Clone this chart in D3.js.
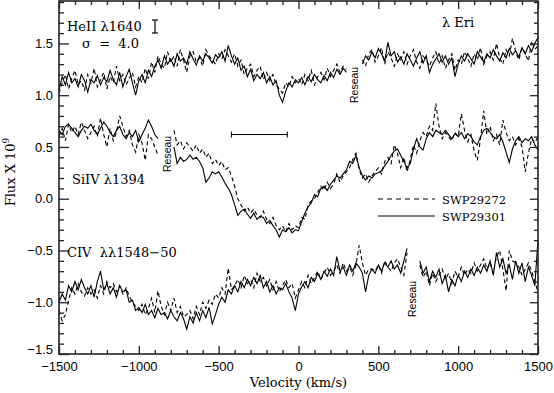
<!DOCTYPE html>
<html><head><meta charset="utf-8">
<script src="https://cdn.jsdelivr.net/npm/d3@7"></script>
<style>
body{margin:0;background:#fff;}
svg{display:block;}
.serif{font-family:"DejaVu Serif",serif;fill:#000;}
.sans{font-family:"Liberation Sans",Arial,sans-serif;fill:#000;}
</style></head><body>
<svg id="c" width="554" height="393"></svg>
<script>
// ---------- DATA ----------
const velocity = d3.range(-1500, 1501, 20); // km/s sampling, 151 points

const heSolid = [
1.05,1.18,1.10,1.22,1.12,1.16,1.08,1.20,1.14,1.03, 1.15,1.12,1.19,1.10,1.17,1.13,1.24,1.15,1.10,1.22, 1.08,1.18,1.25,1.12,1.00,
1.14,1.20,1.12,1.24,1.18,1.28,1.34,1.26,1.38,1.30, 1.35,1.28,1.40,1.33,1.36,1.30,1.42,1.35,1.29,1.38, 1.33,1.40,1.36,1.31,1.39,
1.36,1.42,1.33,1.48,1.38,1.30,1.36,1.24,1.28,1.18, 1.25,1.14,1.20,1.16,1.22,1.12,1.18,1.10,1.14,1.00, 0.93,1.04,1.12,1.08,1.15,
1.12,1.17,1.10,1.18,1.13,1.20,1.15,1.12,1.19,1.14, 1.22,1.17,1.25,1.20,1.26,1.22,
null,null,null,null,
1.30,1.38,1.34,1.42,1.36,1.45,1.40,1.33,1.51,1.38, 1.42,1.32,1.37,1.30,1.40,1.34,1.28,1.36,1.42,1.31, 1.38,1.22,1.30,1.35,1.40,1.32,1.38,1.30,1.36,1.18,
1.30,1.38,1.33,1.40,1.35,1.30,1.42,1.37,1.32,1.40, 1.36,1.44,1.38,1.33,1.41,1.36,1.45,1.39,1.43,1.37, 1.46,1.40,1.48,1.42,1.50,1.56
];
const heDashed = [
1.02,1.12,1.20,1.06,1.16,1.24,1.10,1.14,1.05,1.20, 1.12,1.26,1.08,1.15,1.22,1.06,1.18,1.12,1.28,1.14, 1.20,1.10,1.16,1.22,1.08,
1.18,1.12,1.26,1.16,1.32,1.22,1.38,1.30,1.26,1.42, 1.32,1.38,1.28,1.44,1.34,1.22,1.38,1.42,1.32,1.36, 1.28,1.44,1.38,1.34,1.30,
1.40,1.35,1.44,1.38,1.32,1.40,1.28,1.34,1.20,1.26, 1.30,1.18,1.24,1.28,1.15,1.22,1.14,1.20,1.10,1.06, 1.02,1.12,1.08,1.18,1.12,
1.16,1.10,1.20,1.14,1.24,1.10,1.18,1.22,1.15,1.26, 1.18,1.24,1.30,1.22,1.28,1.25,
null,null,null,null,
1.34,1.28,1.40,1.44,1.32,1.38,1.46,1.30,1.42,1.36, 1.28,1.40,1.34,1.42,1.30,1.38,1.44,1.32,1.26,1.38, 1.34,1.28,1.36,1.42,1.30,1.38,1.26,1.34,1.40,1.24,
1.34,1.30,1.42,1.36,1.28,1.40,1.34,1.46,1.30,1.38, 1.42,1.34,1.50,1.36,1.30,1.44,1.38,1.55,1.42,1.34, 1.46,1.40,1.33,1.52,1.44,1.48
];
const siSolid = [
0.66,0.62,0.70,0.72,0.68,0.64,0.60,0.66,0.70,0.68, 0.72,0.66,0.62,0.68,0.74,0.70,0.64,0.60,0.66,0.70, 0.62,0.58,0.64,0.60,0.66,0.55,0.62,0.68,0.76,0.70, 0.62,0.58,
null,null,null,null,
0.50,0.34,0.40,0.36,0.38,0.42,0.38,0.40,0.36,0.30, 0.16,0.20,0.26,0.24,
0.26,0.21,0.15,0.10,0.04,-0.06,-0.16,-0.12,-0.10,-0.15, -0.19,-0.14,-0.20,-0.17,-0.18,-0.24,-0.21,-0.26,-0.30,-0.37, -0.30,-0.32,-0.28,-0.33,-0.30,
-0.31,-0.22,-0.14,-0.08,-0.04,0.04,0.02,0.10,0.12,0.08, 0.14,0.18,0.22,0.20,0.24,0.28,0.36,0.34,0.42,0.30, 0.22,0.18,0.22,0.20,0.24,0.25,
0.27,0.32,0.36,0.42,0.46,0.48,0.42,0.36,0.30,0.34, 0.48,0.58,0.50,0.47,0.58,0.64,0.60,0.66,0.64,0.62, 0.66,0.62,0.58,0.63,
0.60,0.64,0.58,0.63,0.60,0.55,0.52,0.60,0.66,0.68, 0.64,0.60,0.58,0.62,0.55,0.45,0.35,0.48,0.56,0.60, 0.54,0.58,0.56,0.60,0.52,0.47
];
const siDashed = [
0.60,0.68,0.56,0.72,0.64,0.70,0.62,0.74,0.66,0.58, 0.64,0.70,0.60,0.78,0.62,0.50,0.68,0.56,0.64,0.80, 0.70,0.60,0.66,0.52,0.45,0.62,0.54,0.37,0.62,0.58, 0.50,0.42,
null,null,null,null,
0.66,0.52,0.56,0.48,0.54,0.50,0.46,0.52,0.44,0.48, 0.40,0.44,0.34,0.38,
0.32,0.36,0.28,0.30,0.22,0.12,0.00,-0.06,-0.12,-0.08, -0.14,-0.10,-0.16,-0.18,-0.12,-0.20,-0.24,-0.18,-0.26,-0.30, -0.26,-0.32,-0.24,-0.30,-0.26,
-0.28,-0.18,-0.20,-0.06,-0.02,0.00,0.06,0.12,0.08,0.16, 0.10,0.14,0.24,0.16,0.22,0.26,0.30,0.38,0.44,0.28, 0.20,0.24,0.16,0.22,0.26,0.30,
0.24,0.36,0.40,0.34,0.52,0.44,0.30,0.40,0.26,0.38, 0.52,0.44,0.56,0.64,0.60,0.70,0.66,0.92,0.70,0.58, 0.64,0.60,0.56,0.64,
0.60,0.82,0.66,0.55,0.62,0.46,0.37,0.58,0.85,0.62, 0.70,0.56,0.62,0.52,0.76,0.64,0.56,0.60,0.52,0.58, 0.50,0.26,0.44,0.58,0.54,0.60
];
const civSolid = [
-1.00,-0.92,-0.98,-0.84,-0.90,-0.80,-0.88,-0.78,-0.86,-0.92, -0.84,-0.95,-0.80,-0.70,-0.88,-0.82,-0.92,-0.86,-0.95,-0.84, -0.90,-0.88,-1.00,-0.98,-1.08,
-1.05,-1.10,-1.02,-1.12,-1.08,-1.15,-1.06,-1.12,-1.10,-1.16, -1.08,-1.14,-1.18,-1.10,-1.16,-1.26,-1.14,-1.20,-1.10,-1.18, -1.08,-1.15,-1.05,-1.21,-1.12,
-1.02,-0.95,-1.00,-0.88,-0.92,-0.84,-0.90,-0.80,-0.86,-0.78, -0.84,-0.76,-0.82,-0.74,-0.86,-0.80,-0.90,-0.84,-0.92,-0.86, -0.88,-0.82,-0.90,-0.96,-1.08,
-0.92,-0.85,-0.80,-0.86,-0.76,-0.80,-0.72,-0.78,-0.70,-0.75, -0.68,-0.74,-0.56,-0.70,-0.66,-0.74,-0.64,-0.70,-0.62,-0.66, -0.72,-0.90,-0.74,-0.68,-0.72,-0.64,-0.70,-0.62,-0.66,-0.60, -0.68,-0.64,-0.72,-0.60,-0.48,
null,null,null,
-0.60,-0.72,-0.66,-0.80,-0.70,-0.76,-0.68,-0.82,-0.74,-0.90, -0.78,-0.84,-0.74,-0.80,-0.70,-0.76,-0.68,-0.74,-0.66,-0.72, -0.64,-0.70,-0.60,-0.74,-0.52,-0.66,-0.58,-0.72,-0.64,-0.78, -0.60,-0.72,-0.62,-0.80,-0.66,-0.74,-0.84,-0.40
];
const civDashed = [
-1.08,-1.18,-1.12,-0.98,-0.86,-0.92,-0.82,-0.90,-0.94,-0.86, -0.92,-0.88,-0.96,-0.84,-0.92,-0.80,-0.86,-0.82,-0.90,-0.84, -0.92,-0.86,-0.94,-1.00,-1.04,
-1.08,-1.02,-1.12,-1.06,-0.96,-1.10,-0.89,-1.04,-1.12,-1.00, -1.08,-0.96,-1.10,-1.04,-1.14,-1.12,-1.08,-1.16,-1.04,-1.12, -1.00,-1.06,-0.98,-1.02,-0.92,
-0.96,-0.86,-0.92,-0.67,-0.88,-0.84,-0.78,-0.86,-0.74,-0.82, -0.78,-0.86,-0.72,-0.80,-0.76,-0.84,-0.78,-0.88,-0.80,-0.90, -0.84,-0.78,-0.86,-0.82,-0.96,
-0.88,-0.80,-0.86,-0.74,-0.82,-0.76,-0.70,-0.78,-0.72,-0.66, -0.74,-0.70,-0.64,-0.72,-0.62,-0.70,-0.66,-0.74,-0.64,-0.45, -0.62,-0.74,-0.68,-0.68,-0.70,-0.64,-0.72,-0.60,-0.66,-0.70, -0.62,-0.58,-0.66,-0.74,-0.52,
null,null,null,
-0.64,-0.76,-0.70,-0.84,-0.72,-0.80,-0.74,-0.68,-0.78,-0.72, -0.82,-0.70,-0.76,-0.66,-0.74,-0.68,-0.72,-0.62,-0.70,-0.64, -0.58,-0.68,-0.62,-0.72,-0.56,-0.50,-0.68,-0.89,-0.50,-0.60, -0.62,-0.66,-0.74,-0.68,-0.62,-0.70,-0.80,-0.90
];

const xTicks = [-1500, -1000, -500, 0, 500, 1000, 1500];
const yTicks = [-1.5, -1.0, -0.5, 0.0, 0.5, 1.0, 1.5];
const legendLabels = ["SWP29272", "SWP29301"];
const barVelocity = [-420, -70];   // horizontal bar in SiIV panel
const barFlux = 0.62;

// ---------- DRAW ----------
const svg = d3.select("#c");
const L = 59, R = 538, T = 1, B = 354;
const x = d3.scaleLinear().domain([-1500, 1500]).range([L, R]);
const y = d3.scaleLinear().domain([-1.5, 1.91]).range([B, T]);

const line = d3.line()
  .defined(d => d[1] !== null)
  .x(d => x(d[0])).y(d => y(d[1]));

const series = [
  {v: heDashed, dash: true}, {v: heSolid, dash: false},
  {v: siDashed, dash: true}, {v: siSolid, dash: false},
  {v: civDashed, dash: true}, {v: civSolid, dash: false}
];
const plot = svg.append("g");
series.forEach(s => {
  plot.append("path")
    .attr("d", line(velocity.map((vv, i) => [vv, s.v[i]])))
    .attr("fill", "none").attr("stroke", "#000").attr("stroke-width", 1.1)
    .attr("stroke-dasharray", s.dash ? "4,3" : null);
});

// axes (inward ticks on all four sides)
const xMinor = d3.range(-1500, 1501, 100).filter(d => d % 500 !== 0);
const yMinor = d3.range(-15, 20, 1).map(d => d / 10).filter(d => Math.round(d * 10) % 5 !== 0);
function styleAxis(g) {
  g.select(".domain").remove();
  g.selectAll("line").attr("stroke", "#222").attr("stroke-width", 1.3);
}
svg.append("g").attr("transform", `translate(0,${B})`)
  .call(d3.axisBottom(x).tickValues(xTicks).tickSize(-8).tickPadding(8).tickFormat(d3.format("d")))
  .call(styleAxis)
  .call(g => g.selectAll("text").attr("class", "sans").attr("font-size", 13).attr("font-family", null));
svg.append("g").attr("transform", `translate(0,${B})`)
  .call(d3.axisBottom(x).tickValues(xMinor).tickSize(-4).tickFormat(""))
  .call(styleAxis);
svg.append("g").attr("transform", `translate(0,${T})`)
  .call(d3.axisTop(x).tickValues(xTicks).tickSize(-8).tickFormat(""))
  .call(styleAxis);
svg.append("g").attr("transform", `translate(0,${T})`)
  .call(d3.axisTop(x).tickValues(xMinor).tickSize(-4).tickFormat(""))
  .call(styleAxis);
const yAx = svg.append("g").attr("transform", `translate(${L},0)`)
  .call(d3.axisLeft(y).tickValues(yTicks).tickSize(-10).tickPadding(6).tickFormat(d3.format(".1f")))
  .call(styleAxis);
yAx.selectAll("text").attr("class", "sans").attr("font-size", 13).attr("font-family", null)
  .attr("dy", d => d === -1.5 ? "-0.05em" : "0.32em");
svg.append("g").attr("transform", `translate(${L},0)`)
  .call(d3.axisLeft(y).tickValues(yMinor).tickSize(-5).tickFormat(""))
  .call(styleAxis);
svg.append("g").attr("transform", `translate(${R},0)`)
  .call(d3.axisRight(y).tickValues(yTicks).tickSize(-8).tickFormat(""))
  .call(styleAxis);
svg.append("g").attr("transform", `translate(${R},0)`)
  .call(d3.axisRight(y).tickValues(yMinor).tickSize(-4).tickFormat(""))
  .call(styleAxis);

// frame
svg.append("rect").attr("x", L).attr("y", T).attr("width", R - L).attr("height", B - T)
  .attr("fill", "none").attr("stroke", "#222").attr("stroke-width", 1.6);

// axis titles
svg.append("text").attr("class", "serif").attr("font-size", 13)
  .attr("x", (L + R) / 2).attr("y", 387).attr("text-anchor", "middle").text("Velocity (km/s)");
const yt = svg.append("text").attr("class", "serif").attr("font-size", 13)
  .attr("transform", "translate(15,172) rotate(-90)").attr("text-anchor", "middle");
yt.append("tspan").text("Flux X 10");
yt.append("tspan").attr("font-size", 9).attr("dy", -6).text("9");

// annotations
const ann = [
  {t: "HeII λ1640", x: 67, y: 31},
  {t: "σ  =  4.0", x: 82, y: 48},
  {t: "λ Eri", x: 442, y: 27},
  {t: "SiIV λ1394", x: 72, y: 184},
  {t: "CIV  λλ1548−50", x: 67, y: 257}
];
ann.forEach(a => svg.append("text").attr("class", "serif").attr("font-size", 13)
  .attr("x", a.x).attr("y", a.y).style("white-space", "pre").text(a.t));

// sigma error bar
const eb = svg.append("g").attr("stroke", "#000").attr("stroke-width", 1.2);
eb.append("line").attr("x1", 155).attr("x2", 155).attr("y1", 20).attr("y2", 33);
eb.append("line").attr("x1", 152).attr("x2", 158).attr("y1", 20).attr("y2", 20);
eb.append("line").attr("x1", 152).attr("x2", 158).attr("y1", 33).attr("y2", 33);

// Reseau labels
[{x: 358, y: 103}, {x: 171, y: 172}, {x: 416, y: 317}].forEach(r =>
  svg.append("text").attr("class", "sans").attr("font-size", 10.5)
    .attr("transform", `translate(${r.x},${r.y}) rotate(-90)`).text("Reseau"));

// horizontal bar
const hb = svg.append("g").attr("stroke", "#000").attr("stroke-width", 1);
hb.append("line").attr("x1", x(barVelocity[0])).attr("x2", x(barVelocity[1]))
  .attr("y1", y(barFlux)).attr("y2", y(barFlux));
barVelocity.forEach(v => hb.append("line").attr("x1", x(v)).attr("x2", x(v))
  .attr("y1", y(barFlux) - 3).attr("y2", y(barFlux) + 3));

// legend
legendLabels.forEach((lab, i) => {
  const yy = 199 + i * 17;
  svg.append("line").attr("x1", 378).attr("x2", 435).attr("y1", yy).attr("y2", yy)
    .attr("stroke", "#000").attr("stroke-width", 1)
    .attr("stroke-dasharray", i === 0 ? "5,4" : null);
  svg.append("text").attr("class", "serif").attr("font-size", 11.5)
    .attr("x", 442).attr("y", yy + 4.5).text(lab);
});
</script>
</body></html>
